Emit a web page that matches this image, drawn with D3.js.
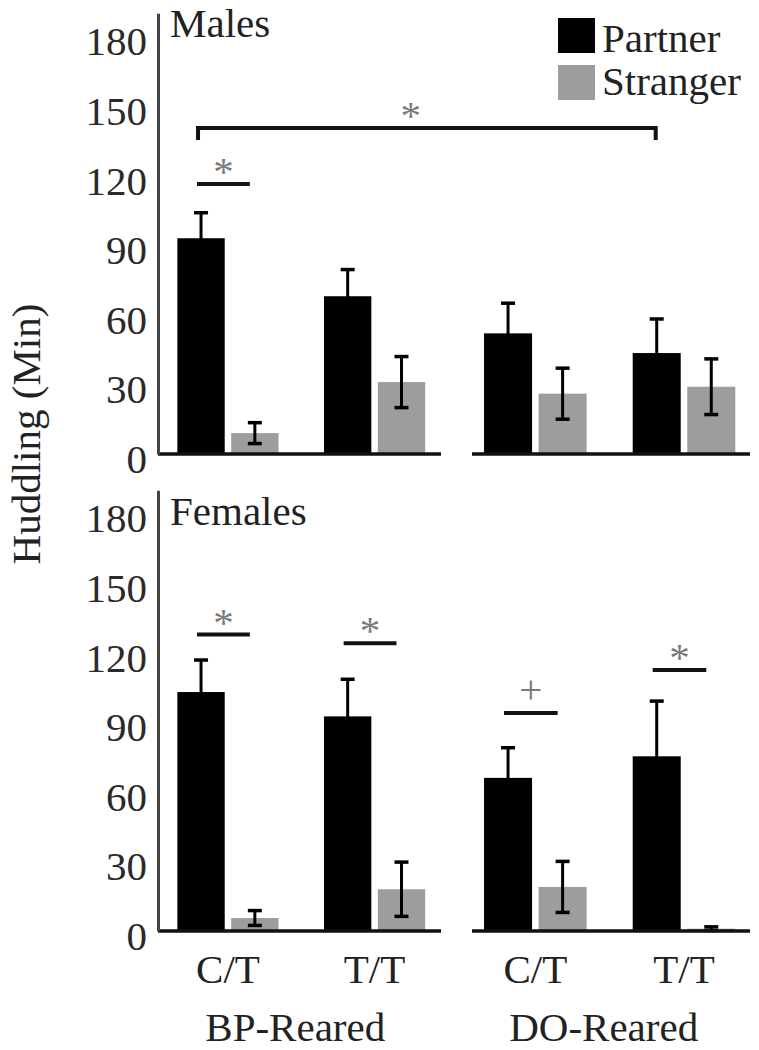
<!DOCTYPE html>
<html><head><meta charset="utf-8">
<script src="https://cdn.jsdelivr.net/npm/d3@7"></script>
<style>
body{margin:0;background:#fff}
svg{display:block}
text{font-family:"Liberation Serif","Times New Roman",serif}
</style>
</head><body><div id="chart"></div>
<script>
// ---------- data ----------
const panelNames = ["Males", "Females"];
const rearings = ["BP-Reared", "DO-Reared"];
const genotypes = ["C/T", "T/T"];
const seriesNames = ["Partner", "Stranger"];
const yTickValues = [0, 30, 60, 90, 120, 150, 180];
// group order: BP C/T, BP T/T, DO C/T, DO T/T
const malesPartner = [93, 68, 52, 43.5];
const malesPartnerSE = [11, 11.5, 13, 14.7];
const malesStranger = [9, 31, 26, 29];
const malesStrangerSE = [4.5, 11, 11, 12];
const femalesPartner = [103, 92.5, 66, 75.3];
const femalesPartnerSE = [13.8, 16, 13, 23.8];
const femalesStranger = [5.6, 18, 19, 1];
const femalesStrangerSE = [3.2, 11.7, 11, 0.8];
// significance markers (group index, line level in minutes, symbol)
const malesPairSig = [{group: 0, level: 116.4, symbol: "*"}];
const malesBracket = {from: 0, to: 3, level: 140.5, drop: 5.2, symbol: "*"};
const femalesPairSig = [
  {group: 0, level: 127.8, symbol: "*"},
  {group: 1, level: 124, symbol: "*"},
  {group: 2, level: 94, symbol: "+"},
  {group: 3, level: 112.5, symbol: "*"}
];

// ---------- layout ----------
const W = 759, H = 1050;
const colors = {Partner: "#000000", Stranger: "#9d9d9d"};
const FONT = 41;
const svg = d3.select("#chart").append("svg").attr("width", W).attr("height", H);

const segRanges = [[158, 441], [472, 750]];
const segOuter = [0.12, 0.09];
const segAlign = [0.55, 0.45];
const xGen = segRanges.map((r, i) => d3.scaleBand().domain(genotypes).range(r)
  .paddingInner(0.31).paddingOuter(segOuter[i]).align(segAlign[i]));
const xSer = xGen.map(s => d3.scaleBand().domain(seriesNames).range([0, s.bandwidth()]).paddingInner(0.12));

const panelBase = [454, 931];
const pxPerMin = 2.32;
const yScales = panelBase.map(b => d3.scaleLinear().domain([0, 190]).range([b, b - 190 * pxPerMin]));
const panelLabelY = [37, 525];

const panelData = [
  {partner: malesPartner, pse: malesPartnerSE, stranger: malesStranger, sse: malesStrangerSE, pairs: malesPairSig, bracket: malesBracket},
  {partner: femalesPartner, pse: femalesPartnerSE, stranger: femalesStranger, sse: femalesStrangerSE, pairs: femalesPairSig, bracket: null}
];

function groupInfo(i) {
  const r = Math.floor(i / 2), g = genotypes[i % 2];
  return {r, g};
}
function barX(i, s) {
  const {r, g} = groupInfo(i);
  return xGen[r](g) + xSer[r](s);
}
function barW(i) { return xSer[groupInfo(i).r].bandwidth(); }
function barCenter(i, s) { return barX(i, s) + barW(i) / 2; }

panelNames.forEach((name, p) => {
  const y = yScales[p];
  const d = panelData[p];
  const g = svg.append("g");

  // bars
  const rows = [];
  d.partner.forEach((v, i) => rows.push({i, s: "Partner", v, se: d.pse[i]}));
  d.stranger.forEach((v, i) => rows.push({i, s: "Stranger", v, se: d.sse[i]}));

  g.selectAll("rect.bar").data(rows).join("rect")
    .attr("x", r => barX(r.i, r.s))
    .attr("width", r => barW(r.i))
    .attr("y", r => y(r.v))
    .attr("height", r => y(0) - y(r.v))
    .attr("fill", r => colors[r.s]);

  // error bars
  const eb = g.selectAll("g.eb").data(rows).join("g");
  eb.append("line")
    .attr("x1", r => barCenter(r.i, r.s)).attr("x2", r => barCenter(r.i, r.s))
    .attr("y1", r => y(Math.max(0, r.v - r.se))).attr("y2", r => y(r.v + r.se))
    .attr("stroke", "#000").attr("stroke-width", 3);
  eb.append("line")
    .attr("x1", r => barCenter(r.i, r.s) - 7).attr("x2", r => barCenter(r.i, r.s) + 7)
    .attr("y1", r => y(r.v + r.se)).attr("y2", r => y(r.v + r.se))
    .attr("stroke", "#000").attr("stroke-width", 3.5);
  eb.filter(r => r.s === "Stranger").append("line")
    .attr("x1", r => barCenter(r.i, r.s) - 7).attr("x2", r => barCenter(r.i, r.s) + 7)
    .attr("y1", r => y(Math.max(0, r.v - r.se))).attr("y2", r => y(Math.max(0, r.v - r.se)))
    .attr("stroke", "#000").attr("stroke-width", 3.5);

  // baselines (broken axis)
  segRanges.forEach(rg => {
    g.append("line").attr("x1", rg[0]).attr("x2", rg[1])
      .attr("y1", y(0)).attr("y2", y(0))
      .attr("stroke", "#111").attr("stroke-width", 3.5);
  });

  // y axis
  const ax = g.append("g").attr("transform", `translate(${segRanges[0][0]},0)`)
    .call(d3.axisLeft(y).tickValues(yTickValues).tickSize(0).tickSizeOuter(0).tickPadding(11));
  ax.select(".domain").attr("stroke", "#444").attr("stroke-width", 3);
  ax.selectAll(".tick text").attr("font-size", FONT).attr("fill", "#2a2a2a")
    .attr("dy", "0.45em").style("font-family", '"Liberation Serif", serif');

  // panel label
  g.append("text").attr("x", 170).attr("y", panelLabelY[p])
    .attr("font-size", FONT).attr("fill", "#222").text(name);

  // pairwise significance
  d.pairs.forEach(sg => {
    const x1 = barCenter(sg.group, "Partner") - 4;
    const x2 = barCenter(sg.group, "Stranger") - 5;
    const ly = y(sg.level);
    g.append("line").attr("x1", x1).attr("x2", x2).attr("y1", ly).attr("y2", ly)
      .attr("stroke", "#111").attr("stroke-width", 4);
    g.append("text").attr("x", (x1 + x2) / 2)
      .attr("y", sg.symbol === "+" ? ly - 10 : ly + 1)
      .attr("text-anchor", "middle").attr("font-size", FONT).attr("fill", "#7a7a7a")
      .text(sg.symbol);
  });

  // bracket
  if (d.bracket) {
    const b = d.bracket;
    const xa = barCenter(b.from, "Partner") - 3;
    const xb = barCenter(b.to, "Partner") - 1;
    const top = y(b.level), bot = y(b.level - b.drop);
    g.append("path").attr("d", `M${xa},${bot}V${top}H${xb}V${bot}`)
      .attr("fill", "none").attr("stroke", "#111").attr("stroke-width", 4);
    g.append("text").attr("x", xa + (xb - xa) * 0.465).attr("y", top + 1)
      .attr("text-anchor", "middle").attr("font-size", FONT).attr("fill", "#7a7a7a")
      .text(b.symbol);
  }
});

// x labels
const yB = yScales[1];
rearings.forEach((rname, r) => {
  genotypes.forEach(gname => {
    svg.append("text").attr("x", xGen[r](gname) + xGen[r].bandwidth() / 2).attr("y", 983)
      .attr("text-anchor", "middle").attr("font-size", FONT).attr("fill", "#222").text(gname);
  });
  const c = (xGen[r](genotypes[0]) + xGen[r](genotypes[1]) + xGen[r].bandwidth()) / 2;
  svg.append("text").attr("x", c - 6).attr("y", 1041)
    .attr("text-anchor", "middle").attr("font-size", FONT).attr("fill", "#222").text(rname);
});

// y title
svg.append("text").attr("transform", "translate(40,434) rotate(-90)")
  .attr("text-anchor", "middle").attr("font-size", FONT).attr("fill", "#222")
  .text("Huddling (Min)");

// legend
const leg = svg.append("g");
seriesNames.forEach((s, k) => {
  leg.append("rect").attr("x", 558).attr("y", 18 + k * 47).attr("width", 37).attr("height", 35)
    .attr("fill", colors[s]);
  leg.append("text").attr("x", 602).attr("y", 52 + k * 43)
    .attr("font-size", FONT).attr("fill", "#222").text(s);
});
</script>
</body></html>
